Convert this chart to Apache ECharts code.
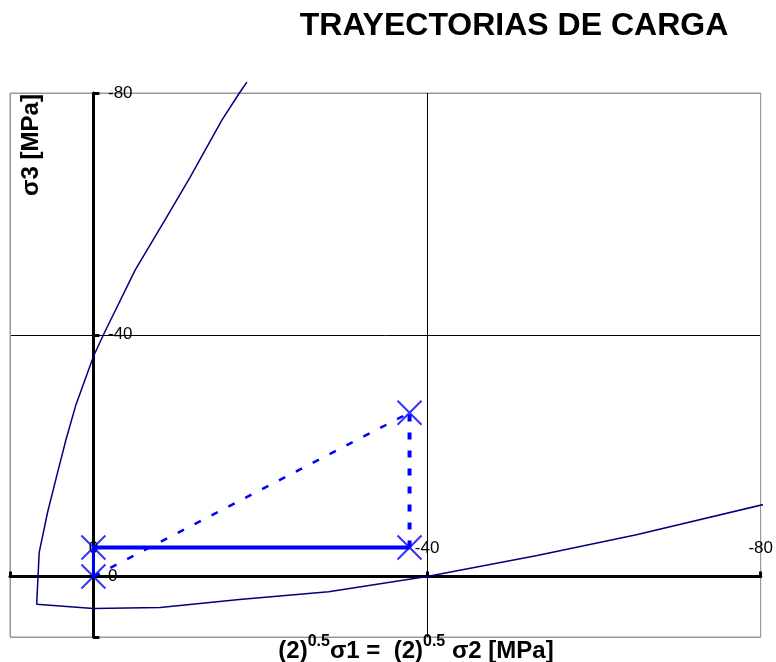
<!DOCTYPE html>
<html>
<head>
<meta charset="utf-8">
<script src="https://cdn.jsdelivr.net/npm/echarts@6/dist/echarts.min.js"></script>
<style>
  html, body { margin: 0; padding: 0; background: #fff; }
  #chart { width: 776px; height: 662px; }
</style>
</head>
<body>
<div id="chart"></div>
<script>
// yield curve (MPa, compression negative)
const curveX = [-18.4, -17.5, -15.4, -11.6, -8.8, -5.0, -1.2, 0, 2.1, 3.3, 4.3, 5.5, 6.5, 6.8, 0, -8.0, -17.5, -28.2, -40, -53.2, -65.1, -81.8]
const curveY = [-81.8, -80, -75.5, -66.1, -59.5, -50.7, -40, -36.4, -28.4, -22.6, -17.2, -10.6, -4.0, 4.6, 5.3, 5.1, 3.8, 2.5, 0, -3.5, -6.9, -12.4]

// load path points
const pathX = [0, 0, -37.9, -37.9]
const pathY = [0, -4.8, -4.8, -27.1]

const axisTicks = [-80, -40, 0]

const blue = '#0000ff'
const pt = i => [pathX[i], pathY[i]]
const tickFmt = v => (axisTicks.includes(v) ? String(v) : '')

const chart = echarts.init(document.getElementById('chart'))

const option = {
  animation: false,
  textStyle: { fontFamily: 'Liberation Sans, Arial, sans-serif' },
  title: [
    {
      text: 'TRAYECTORIAS DE CARGA',
      left: 509, top: 5, textAlign: 'center',
      textStyle: { fontSize: 32, fontWeight: 'bold', color: '#000', fontFamily: 'Liberation Sans' },
    },
    {
      text: '{b|(2)}{s|0.5}{b|σ1 =  (2)}{s|0.5}{b| σ2 [MPa]}',
      left: 411, top: 629, textAlign: 'center',
      textStyle: {
        rich: {
          b: { fontSize: 24, fontWeight: 'bold', color: '#000', fontFamily: 'Liberation Sans', verticalAlign: 'bottom', lineHeight: 29 },
          s: { fontSize: 16, fontWeight: 'bold', color: '#000', fontFamily: 'Liberation Sans', verticalAlign: 'top', lineHeight: 29 },
        },
      },
    },
  ],
  graphic: [
    {
      type: 'text',
      x: 31, y: 145,
      rotation: Math.PI / 2,
      style: {
        text: 'σ3 [MPa]',
        font: 'bold 24px "Liberation Sans"',
        fill: '#000',
        align: 'center',
        verticalAlign: 'middle',
      },
    },
  ],
  grid: {
    left: 10, top: 93, right: 13, bottom: 25,
    show: true, borderColor: '#999', borderWidth: 1,
  },
  xAxis: {
    type: 'value',
    min: -80, max: 10, interval: 40, inverse: true,
    axisLine: { onZero: true, lineStyle: { color: '#000', width: 3 } },
    axisTick: { show: true, inside: true, length: 5, lineStyle: { color: '#000', width: 3 } },
    axisLabel: { inside: true, margin: 80, fontSize: 17, color: '#000', formatter: tickFmt },
    splitLine: { show: true, lineStyle: { color: ['#999', '#000', '#000', '#999'], width: 1 } },
  },
  yAxis: {
    type: 'value',
    min: -80, max: 10, interval: 40, inverse: true,
    axisLine: { onZero: true, lineStyle: { color: '#000', width: 3 } },
    axisTick: { show: true, inside: true, length: 6, lineStyle: { color: '#000', width: 3 } },
    axisLabel: { inside: true, margin: 98, fontSize: 17, color: '#000', formatter: tickFmt },
    splitLine: { show: true, lineStyle: { color: ['#999', '#000', '#000', '#999'], width: 1 } },
  },
  series: [
    {
      type: 'line',
      data: curveX.map((x, i) => [x, curveY[i]]),
      showSymbol: false,
      smooth: false,
      clip: false,
      lineStyle: { color: '#000080', width: 1.5 },
    },
    {
      type: 'line',
      data: [pt(0), pt(1)],
      showSymbol: false,
      lineStyle: { color: blue, width: 3 },
    },
    {
      type: 'line',
      data: [pt(1), pt(2)],
      showSymbol: false,
      lineStyle: { color: blue, width: 4 },
    },
    {
      type: 'line',
      data: [pt(2), pt(3)],
      showSymbol: false,
      lineStyle: { color: blue, width: 4, type: [7, 11] },
    },
    {
      type: 'line',
      data: [pt(0), pt(3)],
      showSymbol: false,
      lineStyle: { color: blue, width: 2.5, type: [7, 12] },
    },
    {
      type: 'scatter',
      data: pathX.map((x, i) => pt(i)),
      symbol: 'path://M0,0L24,24M24,0L0,24',
      symbolSize: 24,
      itemStyle: { color: 'none', borderColor: blue, borderWidth: 2 },
      z: 5,
    },
  ],
}

chart.setOption(option)
</script>
</body>
</html>
